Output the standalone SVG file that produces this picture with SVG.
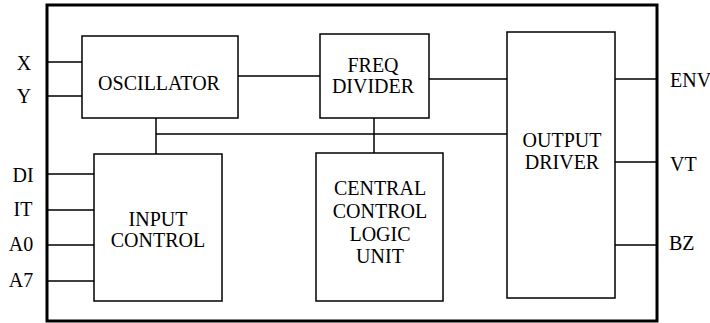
<svg xmlns="http://www.w3.org/2000/svg" width="710" height="323" viewBox="0 0 710 323">
<style>
.box{fill:#fff;stroke:#000;stroke-width:1.5}
.w{stroke:#000;stroke-width:1.5;fill:none}
.t{font-family:"Liberation Serif",serif;font-size:20px;fill:#000}
.c{font-family:"Liberation Serif",serif;font-size:20px;fill:#000;text-anchor:middle}
</style>
<rect width="710" height="323" fill="#fff"/>
<rect x="47" y="5" width="610" height="316" fill="none" stroke="#000" stroke-width="3"/>
<g id="connectors">
<path class="w" d="M47 62H82M47 96H82M238 76H320M429 79H507M615 79H657M615 162H657M615 245H657"/>
<path class="w" d="M156 118V154M156 134H507M374 118V153"/>
<path class="w" d="M47 174H94M47 210H94M47 245H94M47 281H94"/>
</g>
<g id="oscillator"><rect class="box" x="82" y="36" width="156" height="82"/><text class="c" x="159" y="90">OSCILLATOR</text></g>
<g id="freq-divider"><rect class="box" x="320" y="34" width="109" height="84"/><text class="c" x="373" y="72">FREQ</text><text class="c" x="373" y="93">DIVIDER</text></g>
<g id="output-driver"><rect class="box" x="507" y="32" width="108" height="266"/><text class="c" x="562" y="147">OUTPUT</text><text class="c" x="562" y="169">DRIVER</text></g>
<g id="input-control"><rect class="box" x="94" y="154" width="128" height="147"/><text class="c" x="158" y="226">INPUT</text><text class="c" x="158" y="247">CONTROL</text></g>
<g id="central-control"><rect class="box" x="316" y="153" width="127" height="148"/><text class="c" x="380" y="195">CENTRAL</text><text class="c" x="380" y="218">CONTROL</text><text class="c" x="380" y="241">LOGIC</text><text class="c" x="380" y="263">UNIT</text></g>
<g id="pins">
<text class="c" x="24" y="70">X</text>
<text class="c" x="24" y="103">Y</text>
<text class="c" x="23" y="182">DI</text>
<text class="c" x="23" y="216">IT</text>
<text class="c" x="21" y="251">A0</text>
<text class="c" x="21" y="287">A7</text>
<text class="t" x="670" y="87">ENV</text>
<text class="t" x="670" y="171">VT</text>
<text class="t" x="669" y="250">BZ</text>
</g>
</svg>
